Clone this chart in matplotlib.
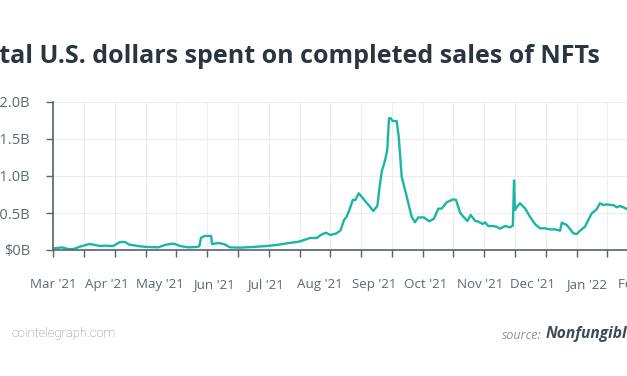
import numpy as np
import pandas as pd
import matplotlib
matplotlib.use("Agg")
import matplotlib.pyplot as plt

# days since 2021-03-01, daily US$ volume in billions
days = [0, 4.8, 8.6, 11.5, 15.3, 20.7, 23.9, 26.8, 29.7, 34.4, 38.3, 41.2, 43.6,
        49.8, 53.6, 60.3, 64.1, 68.0, 69.9, 72.7, 77.5, 82.3, 83.8, 84.8, 87.1,
        90.6, 91.1, 94.7, 98.0, 101.4, 107.2, 114.6, 122.5, 128.2, 134.0, 139.7,
        141.6, 147.4, 151.2, 154.1, 156.5, 159.1, 162.3, 164.9, 166.9, 168.4,
        170.3, 171.9, 173.4, 175.3, 177.0, 178.9, 181.8, 183.7, 186.0, 187.1,
        188.5, 190.4, 191.7, 192.7, 193.7, 194.8, 197.1, 198.3, 200.0, 202.9,
        205.7, 207.6, 209.5, 212.8, 215.8, 218.5, 221.0, 223.0, 225.8, 229.6,
        231.2, 233.5, 235.4, 237.7, 239.6, 242.1, 244.0, 246.5, 247.8, 249.7,
        252.6, 254.9, 256.4, 259.3, 262.2, 263.8, 264.5, 265.0, 266.0, 267.9,
        270.8, 273.6, 276.5, 279.4, 282.3, 285.1, 288.0, 290.9, 291.9, 294.7,
        296.6, 298.5, 300.5, 302.4, 305.2, 307.1, 309.1, 311.9, 313.8, 315.7,
        317.7, 319.6, 321.5, 323.4, 325.3, 327.2, 329.2, 333.0]
volume = [0.02, 0.036, 0.013, 0.013, 0.045, 0.081, 0.068, 0.054, 0.058, 0.054,
          0.108, 0.108, 0.072, 0.05, 0.041, 0.036, 0.068, 0.085, 0.081, 0.054,
          0.036, 0.041, 0.05, 0.167, 0.189, 0.19, 0.08, 0.095, 0.08, 0.036,
          0.032, 0.041, 0.054, 0.068, 0.09, 0.108, 0.117, 0.162, 0.162, 0.21,
          0.234, 0.203, 0.222, 0.265, 0.405, 0.45, 0.563, 0.676, 0.676, 0.766,
          0.72, 0.666, 0.585, 0.527, 0.595, 0.81, 1.058, 1.207, 1.35, 1.78,
          1.78, 1.743, 1.743, 1.53, 0.99, 0.72, 0.45, 0.374, 0.44, 0.44, 0.387,
          0.423, 0.558, 0.56, 0.644, 0.685, 0.676, 0.505, 0.45, 0.392, 0.473,
          0.396, 0.383, 0.351, 0.374, 0.324, 0.324, 0.311, 0.288, 0.324, 0.306,
          0.33, 0.94, 0.54, 0.577, 0.631, 0.563, 0.45, 0.351, 0.293, 0.293,
          0.279, 0.279, 0.261, 0.369, 0.338, 0.284, 0.225, 0.216, 0.261, 0.315,
          0.405, 0.495, 0.55, 0.631, 0.608, 0.617, 0.608, 0.608, 0.577, 0.595,
          0.577, 0.554, 0.55]

start = pd.Timestamp("2021-03-01")
months = pd.date_range("2021-03-01", "2022-02-01", freq="MS")
month_days = [(m - start).days for m in months]
month_labels = [m.strftime("%b '%y") for m in months]
y_ticks = [0, 0.5, 1.0, 1.5, 2.0]
y_labels = ["$0B", "$0.5B", "$1.0B", "$1.5B", "$2.0B"]

title = "Total U.S. dollars spent on completed sales of NFTs"

W, H = 627, 376
px_per_day = 1.742
tick_step = 30.78 / px_per_day

fig = plt.figure(figsize=(W / 100, H / 100), dpi=100)
ax_left, ax_right = 53.3, 690
ax = fig.add_axes([ax_left / W, (H - 250) / H, (ax_right - ax_left) / W, 148 / H])

ax.plot(days, volume, color="#1bb5a6", lw=1.7, solid_joinstyle="round")

spine_c = "#56626c"
label_c = "#5c6872"
for s in ["top", "right"]:
    ax.spines[s].set_visible(False)
for s in ["left", "bottom"]:
    ax.spines[s].set_color(spine_c)
    ax.spines[s].set_linewidth(1.2)

x_max = (ax_right - ax_left) / px_per_day
ax.xaxis.remove_overlapping_locs = False
ax.set_xticks(np.arange(0, x_max, tick_step))
ax.set_xticklabels([])
ax.set_xticks(month_days, month_labels, minor=True)
ax.set_yticks(y_ticks, y_labels)
ax.set_xlim(0, x_max)
ax.set_ylim(0, 2.0)

ax.tick_params(axis="both", which="major", length=5, width=1, color=spine_c)
ax.tick_params(axis="y", pad=11.7, labelsize=10.5, labelcolor=label_c)
ax.tick_params(axis="x", which="minor", length=0, pad=20.5,
               labelsize=9.6, labelcolor=label_c)
for lab in ax.get_yticklabels() + ax.get_xticklabels(minor=True):
    lab.set_family("Open Sans")

ax.grid(True, which="major", color="#ebedef", lw=0.8)
ax.set_axisbelow(True)

fig.text(600 / W, 1 - 63 / H, title, ha="right", va="baseline",
         fontsize=18, fontweight="bold", family="Open Sans", color="#2a3540")

fig.text(11.7 / W, 1 - 337 / H, "cointelegraph.com", ha="left", va="baseline",
         fontsize=9.4, family="Roboto", fontweight="light", color="#78828a")
src = fig.text(501.7 / W, 1 - 339 / H, "source:", ha="left", va="baseline",
               fontsize=9, family="Open Sans", style="italic", color="#8a949c")
ax.annotate("Nonfungible.com", xy=(1, 0), xycoords=src, xytext=(3, 0),
            textcoords="offset points", ha="left", va="bottom", fontsize=11.2,
            family="Open Sans", style="italic", fontweight="bold",
            color="#3e4b56", annotation_clip=False)

fig.savefig("out.png", dpi=100)
